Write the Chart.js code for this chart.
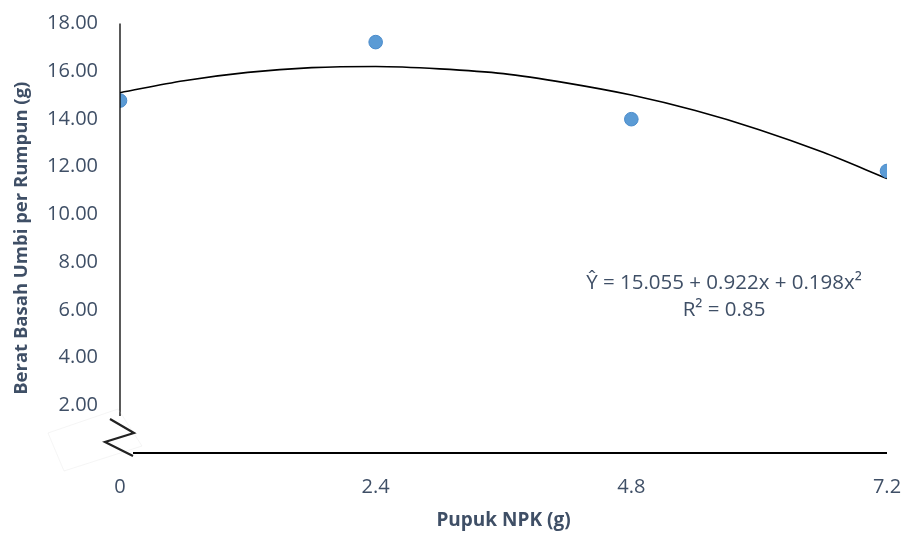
<!DOCTYPE html>
<html>
<head>
<meta charset="utf-8">
<script src="https://cdn.jsdelivr.net/npm/chart.js@4/dist/chart.umd.min.js"></script>
<style>
  html, body { margin: 0; padding: 0; background: #fff; }
  #wrap { width: 904px; height: 533px; position: relative; }
</style>
</head>
<body>
<div id="wrap"><canvas id="c" width="904" height="533"></canvas></div>
<script>
// ---- data ----
const xTicks = [0, 2.4, 4.8, 7.2];
const xTickLabels = ['0', '2.4', '4.8', '7.2'];
const doseNPK = [0, 2.4, 4.8, 7.2];
const beratBasah = [14.77, 17.22, 13.99, 11.82];
// trend curve
const trendX = [0, 0.6, 1.2, 1.8, 2.4, 3.0, 3.6, 4.2, 4.8, 5.4, 6.0, 6.6, 7.2];
const trendY = [15.1, 15.6, 15.95, 16.15, 16.2, 16.1, 15.9, 15.5, 15.0, 14.35, 13.55, 12.6, 11.5];
const equationLines = ['Ŷ = 15.055 + 0.922x + 0.198x²', 'R² = 0.85'];
const yTitle = 'Berat Basah Umbi per Rumpun (g)';
const xTitle = 'Pupuk NPK (g)';

const FONT = 'Open Sans';
const TXT = '#3F4F66';

const axesPlugin = {
  id: 'axesBreak',
  afterDatasetsDraw(chart) {
    const ctx = chart.ctx;
    const xs = chart.scales.x, ys = chart.scales.y;
    const x0 = xs.getPixelForValue(0), x1 = xs.getPixelForValue(7.2);
    const yTop = ys.getPixelForValue(18), y0 = ys.getPixelForValue(0);
    const yBreak = ys.getPixelForValue(1.55);
    ctx.save();
    ctx.strokeStyle = '#000';
    ctx.lineWidth = 1.3;
    ctx.beginPath();
    ctx.moveTo(x0, yTop); ctx.lineTo(x0, yBreak);
    ctx.stroke();
    ctx.lineWidth = 1.8;
    ctx.beginPath();
    ctx.moveTo(x0 + 13, y0); ctx.lineTo(x1, y0);
    ctx.stroke();
    // faint break box
    ctx.strokeStyle = 'rgba(210,210,210,0.22)';
    ctx.lineWidth = 1;
    ctx.beginPath();
    ctx.moveTo(x0 - 72, y0 - 20); ctx.lineTo(x0 - 2, y0 - 44);
    ctx.lineTo(x0 + 22, y0 - 7); ctx.lineTo(x0 - 56, y0 + 18); ctx.closePath();
    ctx.stroke();
    // zigzag break
    ctx.strokeStyle = '#222';
    ctx.lineWidth = 2.2;
    ctx.beginPath();
    ctx.moveTo(x0 - 10, y0 - 34);
    ctx.lineTo(x0 + 14, y0 - 20);
    ctx.lineTo(x0 - 15, y0 - 11);
    ctx.lineTo(x0 + 13, y0 + 3);
    ctx.stroke();
    // equation
    ctx.fillStyle = TXT;
    ctx.font = '20.5px "' + FONT + '"';
    ctx.textAlign = 'center';
    ctx.textBaseline = 'middle';
    const cx = xs.getPixelForValue(5.67);
    ctx.fillText(equationLines[0], cx, ys.getPixelForValue(7.12));
    ctx.fillText(equationLines[1], cx, ys.getPixelForValue(6.0));
    ctx.restore();
  }
};

new Chart(document.getElementById('c'), {
  type: 'scatter',
  data: {
    datasets: [
      {
        label: 'Trend',
        type: 'line',
        data: trendX.map((x, i) => ({ x, y: trendY[i] })),
        borderColor: '#000',
        borderWidth: 1.6,
        pointRadius: 0,
        fill: false,
        tension: 0.4,
        cubicInterpolationMode: 'monotone',
        order: 2
      },
      {
        label: 'Berat basah',
        data: doseNPK.map((x, i) => ({ x, y: beratBasah[i] })),
        backgroundColor: '#5B9BD5',
        borderColor: '#4A8BCB',
        borderWidth: 1,
        pointRadius: 6.8,
        order: 1
      }
    ]
  },
  options: {
    responsive: false,
    animation: false,
    devicePixelRatio: 1,
    layout: { padding: { top: 23.5, right: 17, left: 0, bottom: 0 } },
    plugins: { legend: { display: false }, tooltip: { enabled: false } },
    scales: {
      x: {
        type: 'linear', min: 0, max: 7.2,
        grid: { display: false, drawTicks: false },
        border: { display: false },
        afterBuildTicks(s) { s.ticks = xTicks.map(v => ({ value: v })); },
        afterFit(s) { s.height = 80; s.paddingLeft = 0; s.paddingRight = 0; },
        ticks: {
          padding: 22,
          color: TXT,
          font: { family: FONT, size: 20 },
          callback: (v) => { const i = xTicks.indexOf(v); return i >= 0 ? xTickLabels[i] : ''; },
          maxRotation: 0
        },
        title: { display: true, text: xTitle, color: TXT, font: { family: FONT, size: 19, weight: 'bold' }, padding: { top: 0, bottom: 1 } }
      },
      y: {
        min: 0, max: 18,
        grid: { display: false, drawTicks: false },
        border: { display: false },
        afterFit(s) { s.width = 120; s.paddingTop = 0; s.paddingBottom = 0; },
        ticks: {
          stepSize: 2,
          padding: 22,
          color: TXT,
          font: { family: FONT, size: 20 },
          callback: (v) => v === 0 ? '' : v.toFixed(2)
        },
        title: { display: true, text: yTitle, color: TXT, font: { family: FONT, size: 18.5, weight: 'bold' }, padding: { top: 11, bottom: 0 } }
      }
    }
  },
  plugins: [axesPlugin]
});
</script>
</body>
</html>
